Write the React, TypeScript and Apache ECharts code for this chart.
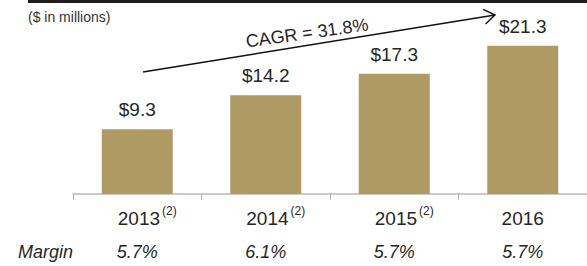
import React, { useEffect, useRef } from "react";
import * as echarts from "echarts";

const years = ["2013", "2014", "2015", "2016"];
const footnotes = ["(2)", "(2)", "(2)", ""];
const revenue = [9.3, 14.2, 17.3, 21.3];
const margins = ["5.7%", "6.1%", "5.7%", "5.7%"];
const unitNote = "($ in millions)";
const cagrText = "CAGR = 31.8%";
const marginTitle = "Margin";

const FONT = "'Liberation Sans', Arial, sans-serif";
const BAR = "#AF9A64";
const TEXT = "#262626";

export default function App() {
  const ref = useRef<HTMLDivElement>(null);
  useEffect(() => {
    if (!ref.current) return;
    const chart = echarts.init(ref.current, undefined, { renderer: "svg" });
    const x1 = 143, y1 = 72, x2 = 495, y2 = 15;
    const ang = Math.atan2(y2 - y1, x2 - x1);
    const L = 13, spread = 0.6;
    const a1 = [x2 - L * Math.cos(ang - spread), y2 - L * Math.sin(ang - spread)];
    const a2 = [x2 - L * Math.cos(ang + spread), y2 - L * Math.sin(ang + spread)];
    chart.setOption({
      animation: false,
      grid: { left: 73, right: -6, top: 41, bottom: 72, containLabel: false },
      xAxis: [
        {
          type: "category",
          data: years,
          position: "bottom",
          axisLine: { show: true, lineStyle: { color: "#B8B8B8", width: 1.5 } },
          axisTick: { show: true, length: 6, lineStyle: { color: "#B8B8B8" } },
          axisLabel: {
            interval: 0,
            hideOverlap: false,
            margin: 11,
            formatter: (v: string, i: number) =>
              footnotes[i]
                ? `{pad| }{y|${v}}{sup|${footnotes[i]}}`
                : `{y|${v}}`,
            rich: {
              pad: { width: 20, fontSize: 12, lineHeight: 26 },
              y: { fontSize: 19, fontFamily: FONT, color: TEXT, lineHeight: 26 },
              sup: {
                fontSize: 12,
                fontFamily: FONT,
                color: TEXT,
                lineHeight: 12,
                padding: [0, 0, 14, 2],
              },
            },
          },
        },
        {
          type: "category",
          data: margins,
          position: "bottom",
          axisLine: { show: false },
          axisTick: { show: false },
          axisLabel: {
            interval: 0,
            hideOverlap: false,
            margin: 49,
            fontSize: 18,
            fontStyle: "italic",
            fontFamily: FONT,
            color: TEXT,
            lineHeight: 18,
          },
        },
      ],
      yAxis: {
        type: "value",
        min: 0,
        max: 22,
        show: false,
        splitLine: { show: false },
      },
      series: [
        {
          type: "bar",
          data: revenue,
          barWidth: 71,
          itemStyle: { color: BAR },
          label: {
            show: true,
            position: "top",
            distance: 10,
            formatter: (p: any) => "$" + p.value.toFixed(1),
            fontSize: 19,
            fontFamily: FONT,
            color: TEXT,
          },
        },
      ],
      graphic: [
        {
          type: "rect",
          shape: { x: 28, y: 0, width: 560, height: 3 },
          style: { fill: "#1c1c1c" },
        },
        {
          type: "text",
          x: 28,
          y: 17,
          style: {
            text: unitNote,
            fontSize: 14,
            fontFamily: FONT,
            fill: "#333",
            verticalAlign: "middle",
            textAlign: "left",
          },
        },
        {
          type: "text",
          x: 18,
          y: 252,
          style: {
            text: marginTitle,
            fontSize: 18,
            fontStyle: "italic",
            fontFamily: FONT,
            fill: TEXT,
            verticalAlign: "middle",
            textAlign: "left",
          },
        },
        {
          type: "line",
          shape: { x1, y1, x2, y2 },
          style: { stroke: "#111", lineWidth: 1.4 },
        },
        {
          type: "polyline",
          shape: { points: [a1, [x2, y2], a2] },
          style: { stroke: "#111", lineWidth: 1.4, fill: null },
        },
        {
          type: "text",
          x: 307,
          y: 33,
          rotation: 0.14,
          style: {
            text: cagrText,
            fontSize: 18,
            fontFamily: FONT,
            fill: TEXT,
            verticalAlign: "middle",
            textAlign: "center",
          },
        },
      ],
    });
    return () => chart.dispose();
  }, []);
  return (
    <div
      ref={ref}
      style={{ position: "fixed", left: 0, top: 0, width: 587, height: 266, background: "#fff" }}
    />
  );
}
